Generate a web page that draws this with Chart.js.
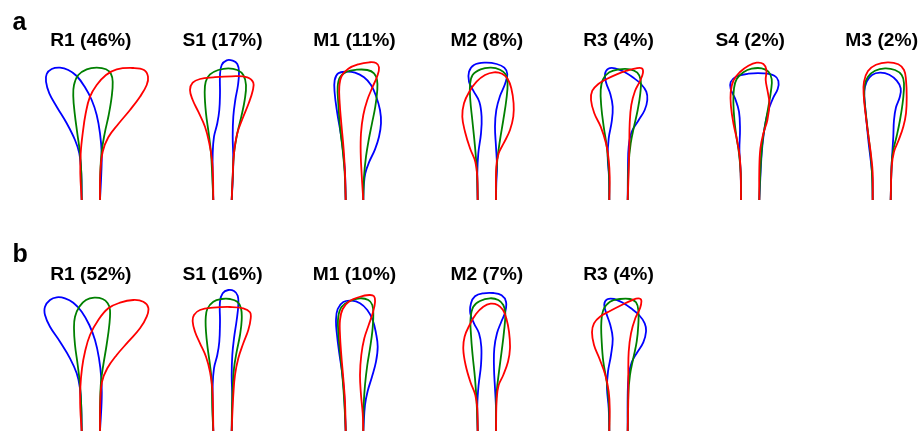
<!DOCTYPE html>
<html>
<head>
<meta charset="utf-8">
<script src="https://cdn.jsdelivr.net/npm/chart.js@4/dist/chart.umd.min.js"></script>
<style>
  html, body { margin: 0; padding: 0; background: #ffffff; }
  #wrap { width: 920px; height: 431px; position: relative; }
</style>
</head>
<body>
<div id="wrap"><canvas id="shapes" width="920" height="431"></canvas></div>
<script>
// Outline coordinates per mode: [x, y] with x measured from the midpoint
// between the two stems and y measured upward from the stem base.

// ---- row a ----
const aR1Blue = [[-9.1,0],[-9.5,26.7],[-11.5,46.7],[-15.8,60],[-24.1,76.7],[-34.1,93.3],[-41.5,106.7],[-44.8,118.3],[-44.1,126],[-39.1,131],[-30.8,132.3],[-22.5,130],[-14.1,124],[-5.8,112.7],[0.9,100],[5.9,85],[9.2,66.7],[10.9,46.7],[10.5,26.7],[9.2,0]];
const aR1Green = [[-9.1,0],[-9.5,26.7],[-10.8,46.7],[-13.5,66.7],[-16.1,86.7],[-17.5,103.3],[-16.8,115],[-12.5,125],[-4.1,130.7],[5.9,132.3],[15.2,130.7],[20.2,126],[21.9,118.3],[20.9,103.3],[17.9,85],[13.9,66.7],[10.9,48.3],[9.5,26.7],[9.2,0]];
const aR1Red = [[-9.1,0],[-10.5,26.7],[-10.1,46.7],[-8.1,66.7],[-5.1,86.7],[-0.8,103.3],[5.9,115],[15.2,125],[25.9,130.7],[42.5,132],[53.2,130],[57.2,123.3],[55.9,115],[49.2,103.3],[39.2,90],[27.5,76],[17.5,62.7],[11.9,48.3],[9.5,26.7],[9.2,0]];

const aS1Blue = [[-9.2,0],[-9.8,23.3],[-9.8,46.7],[-8.5,63.3],[-5.2,76.7],[-3.2,90],[-2.5,106.7],[-2.5,125],[-0.8,135],[4.2,139.7],[10.2,139.3],[14.8,136],[16.5,128.3],[15.5,115],[12.8,100],[10.8,83.3],[10.2,63.3],[10.8,40],[10.2,20],[9.2,0]];
const aS1Green = [[-9.2,0],[-10.2,23.3],[-11.5,46.7],[-13.8,66.7],[-16.5,86.7],[-17.8,106.7],[-16.8,118.3],[-12.5,125.7],[-4.2,130],[5.8,131.7],[14.8,130],[20.8,125],[23.5,115],[22.2,100],[18.8,83.3],[14.8,66.7],[11.5,46.7],[10.2,23.3],[9.2,0]];
const aS1Red = [[-9.2,0],[-9.5,23.3],[-10.5,40],[-13.2,56.7],[-17.5,73.3],[-24.2,88.3],[-29.8,100],[-32.5,110],[-29.8,117.3],[-22.5,121],[-9.2,122.7],[9.2,123.7],[24.8,122.7],[30.8,117.3],[30.2,109.3],[26.2,96.7],[20.2,81.7],[14.8,66.7],[11.5,46.7],[10.2,23.3],[9.2,0]];

const aM1Blue = [[-8.8,0],[-9.5,26.7],[-11.2,46.7],[-13.8,66.7],[-17.2,86.7],[-19.8,106.7],[-19.8,120],[-16.2,126.7],[-8.5,128.3],[0.5,127.3],[9.5,122.7],[16.5,115],[21.5,104],[25.5,90],[26.5,76.7],[24.5,63.3],[20.5,50.7],[14.8,38.3],[10.8,26.7],[9.2,13.3],[8.8,0]];
const aM1Green = [[-8.8,0],[-9.8,26.7],[-11.8,50],[-14.5,73.3],[-16.2,96.7],[-16.8,113.3],[-14.5,122.7],[-7.8,128.3],[2.2,130.3],[12.8,130],[19.5,126.7],[22.5,120],[22.8,110],[20.8,93.3],[17.5,76.7],[14.2,60],[11.5,43.3],[9.5,23.3],[8.8,0]];
const aM1Red = [[-8.8,0],[-9.5,26.7],[-10.8,50],[-13.2,76.7],[-14.8,96.7],[-15.2,113.3],[-12.8,124],[-6.2,131.3],[3.8,135.7],[14.8,137.7],[21.5,137],[24.5,132.7],[22.8,124],[18.2,113.3],[12.8,100],[8.8,85],[6.5,66.7],[6.2,46.7],[7.2,25],[8.8,0]];

const aM2Blue = [[-9.1,0],[-9.5,26.7],[-8.5,46.7],[-5.8,66.7],[-5.2,83.3],[-7.5,98.3],[-13.5,109.3],[-17.8,118.3],[-17.8,128.3],[-12.8,135],[-1.8,137.3],[9.9,136],[17.5,132.3],[20.5,126],[18.2,116],[13.2,104],[9.5,90],[8.2,73.3],[9.2,53.3],[10.2,33.3],[9.5,16.7],[9.2,0]];
const aM2Green = [[-9.1,0],[-9.8,26.7],[-11.8,53.3],[-14.5,80],[-16.5,100],[-16.8,115],[-14.2,125],[-6.2,130.7],[4.2,132.3],[13.2,130.3],[18.8,125.7],[20.8,117.3],[19.5,100],[16.5,80],[13.2,60],[10.5,40],[9.2,20],[9.2,0]];
const aM2Red = [[-9.1,0],[-9.5,23.3],[-11.5,38.3],[-16.8,51.7],[-21.8,68.3],[-24.5,83.3],[-22.8,96.7],[-17.5,108.3],[-10.2,118.3],[-1.8,125],[7.2,127.7],[15.2,126.3],[20.8,121.3],[24.5,111.7],[26.8,96.7],[26.5,83.3],[23.2,70],[17.2,57.3],[11.9,46.7],[9.5,33.3],[9.2,0]];

const aR3Blue = [[-9.2,0],[-9.5,23.3],[-10.8,43.3],[-9.8,61.7],[-6.8,78.3],[-5.8,93.3],[-8.2,106],[-12.2,116.7],[-13.5,126],[-10.2,131.3],[-3.5,131.7],[5.5,128.3],[14.2,122.7],[22.5,116],[27.8,108.3],[28.8,100],[26.2,90],[19.8,79.3],[13.2,68.3],[10.2,53.3],[9.5,33.3],[9.2,0]];
const aR3Green = [[-9.2,0],[-9.5,26.7],[-11.5,51.7],[-14.8,73.3],[-17.2,93.3],[-17.8,110],[-15.5,120.7],[-9.2,127.7],[0.8,130.7],[11.5,130.7],[18.8,127.3],[22.2,120],[21.8,106.7],[19.2,90],[15.5,73.3],[12.2,56.7],[10.2,36.7],[9.2,0]];
const aR3Red = [[-9.2,0],[-8.8,23.3],[-9.8,40],[-12.5,56.7],[-17.8,73.3],[-24.2,86.7],[-27.5,100],[-26.2,109.3],[-20.2,116],[-11.8,121],[-1.8,125.7],[8.2,129.3],[17.5,131.7],[23.2,131.7],[24.5,127.3],[21.5,119],[16.5,109],[12.8,95],[11.2,76.7],[10.8,53.3],[10.2,30],[9.2,0]];

const aS4Blue = [[-9.2,0],[-9.5,26.7],[-10.8,50],[-10.2,70],[-11.2,88.3],[-15.2,101.7],[-19.5,111],[-19.5,118],[-14.2,123.3],[-1.8,126.3],[13.2,126.7],[24.2,124.3],[28.2,119],[27.5,111],[23.2,102.7],[19.2,92.7],[15.8,80],[13.2,63.3],[11.5,46.7],[10.5,30],[9.1,0]];
const aS4Green = [[-9.2,0],[-9.5,26.7],[-11.2,46.7],[-13.8,63.3],[-15.8,80],[-16.8,96.7],[-16.2,111.7],[-13.5,121],[-6.8,127.7],[1.5,131.3],[11.5,131.7],[18.2,128.3],[21.5,121],[20.8,109.3],[18.2,93.3],[15.2,76.7],[12.5,60],[10.8,40],[9.8,20],[9.1,0]];
const aS4Red = [[-9.2,0],[-9.5,26.7],[-10.5,43.3],[-13.2,60],[-16.8,76.7],[-19.2,93.3],[-19.5,107.3],[-16.8,119.3],[-10.2,128],[-1.8,134.3],[6.5,137.3],[13.2,136],[16.2,130],[15.5,120],[17.5,108.3],[19.2,96.7],[17.2,80],[13.2,66.7],[10.2,51.7],[9.1,30],[9.1,0]];

const aM3Blue = [[-9,0],[-9.4,23.3],[-11,40],[-13,56.7],[-15,76.7],[-16.7,95],[-17.4,108.3],[-15,118.3],[-9.7,125],[-1.7,127.3],[7.6,125.3],[15,119.3],[19,111.7],[18,102.7],[14.3,92.7],[12.3,80],[11.6,63.3],[10.6,46.7],[9.6,26.7],[9,0]];
const aM3Green = [[-9,0],[-9.7,26.7],[-11,45],[-13.4,65],[-15.7,85],[-17.4,102.7],[-17,115],[-13.7,123.3],[-6.7,129.3],[3.3,131.7],[13.3,130],[20,125],[22.3,116.7],[21.3,100],[18.3,80],[15,64],[11.6,50],[10,36.7],[9,0]];
const aM3Red = [[-9,0],[-9,26.7],[-10.7,45],[-13.4,65],[-16,85],[-18,105],[-17.7,118.3],[-13.7,129],[-5.7,135.3],[6,137.7],[16.6,135.7],[22.3,130],[24.3,120],[25,103.3],[24.3,86.7],[21.6,73.3],[17,60],[12.3,48.3],[10,33.3],[9,0]];

// ---- row b ----
const bR1Blue = [[-9.1,0],[-9.5,22.7],[-10.8,42.7],[-14.1,57.7],[-20.8,72.7],[-30.8,89.3],[-40.8,104.3],[-45.8,116],[-45.8,124.3],[-40.8,131],[-34.1,133.7],[-25.8,132.7],[-17.5,128.3],[-9.1,119.3],[-1.5,106],[4.2,91],[8.2,72.7],[10.5,52.7],[10.9,32.7],[9.2,0]];
const bR1Green = [[-9.1,0],[-9.5,22.7],[-10.8,46],[-13.1,66],[-15.8,86],[-16.8,102.7],[-15.8,114.3],[-11.5,124.3],[-4.8,131],[3.5,133.3],[11.9,132],[16.9,127.7],[19.2,121],[18.5,106],[15.8,86],[12.5,66],[10.2,49.3],[9.2,22.7],[9.2,0]];
const bR1Red = [[-9.1,0],[-10.5,22.7],[-10.5,42.7],[-8.8,62.7],[-5.8,79.3],[-0.8,96],[7.5,111],[17.5,122.7],[29.2,128.3],[42.5,131],[52.5,129.3],[57.5,123.3],[55.9,114.3],[49.2,102.7],[37.5,89.3],[25.9,76],[16.5,62.7],[11.2,49.3],[9.5,29.3],[9.2,0]];

const bS1Blue = [[-9.2,0],[-9.8,22.7],[-9.8,46],[-8.5,62.7],[-5.2,76],[-3.2,89.3],[-2.5,109.3],[-2.5,129.3],[0.2,137.7],[5.8,141],[11.5,140],[15.2,135.3],[15.8,126],[14.2,111],[11.5,92.7],[9.8,76],[9.2,56],[9.8,32.7],[9.5,16],[9.2,0]];
const bS1Green = [[-9.2,0],[-10.2,22.7],[-10.8,49.3],[-12.5,66],[-14.8,82.7],[-16.5,99.3],[-16.8,112.7],[-15.2,122],[-9.2,129.3],[-0.8,132],[7.5,132],[14.8,129.3],[18.5,122.7],[19.2,111],[17.5,96],[14.2,79.3],[11.5,62.7],[10.2,42.7],[9.5,22.7],[9.2,0]];
const bS1Red = [[-9.2,0],[-9.5,22.7],[-10.2,42.7],[-12.5,59.3],[-16.5,74.3],[-22.5,87.7],[-27.5,99.3],[-29.8,109.3],[-28.5,116],[-22.5,121],[-9.2,123.3],[7.5,124],[20.8,122.7],[27.5,118.7],[28.2,112.7],[25.8,101],[20.8,87.7],[15.8,72.7],[12.5,56],[10.8,36],[9.8,16],[9.2,0]];

const bM1Blue = [[-8.8,0],[-9.5,19.3],[-10.5,39.3],[-12.5,59.3],[-15.2,77.7],[-17.5,96],[-18.5,111],[-16.8,122],[-11.2,129],[-2.8,130.3],[5.5,127.7],[12.8,121],[18.2,111],[21.5,97.7],[23.2,84.3],[21.5,69.3],[17.5,54.3],[13.2,40],[10.5,26],[8.8,0]];
const bM1Green = [[-8.8,0],[-10.2,29.3],[-12.2,56],[-14.5,79.3],[-16.2,99.3],[-16.2,114.3],[-12.8,124.3],[-4.5,130],[5.5,132.7],[13.8,131],[17.8,126],[18.8,116],[17.8,99.3],[15.5,82.7],[12.8,66],[10.5,46],[9.2,26],[8.8,0]];
const bM1Red = [[-8.8,0],[-9.5,29.3],[-11.2,52.7],[-13.2,76],[-14.5,96],[-14.5,111],[-11.8,122],[-5.2,129.7],[4.8,134],[14.8,136],[19.5,134.7],[20.5,128.7],[18.5,118.7],[14.2,106],[9.8,92.7],[6.8,76],[5.5,56],[6.5,36],[8.2,17.7],[8.8,0]];

const bM2Blue = [[-9.1,0],[-9.5,26],[-8.2,46],[-5.8,66],[-5.5,84.3],[-7.8,97.7],[-12.8,107.7],[-16.5,117.7],[-15.8,127.7],[-11.8,134.7],[-3.5,137.7],[6.5,138],[14.8,135.7],[19.2,129.3],[18.5,119.3],[14.5,109.3],[10.2,97.7],[7.5,82.7],[7.2,62.7],[8.2,42.7],[9.2,22.7],[9.2,0]];
const bM2Green = [[-9.1,0],[-10.2,29.3],[-11.8,52.7],[-14.2,76],[-15.8,96],[-16.2,112.7],[-13.5,124.3],[-6.8,130],[3.2,132.7],[11.5,131],[16.5,126],[18.5,117.7],[17.2,99.3],[14.8,79.3],[12.2,59.3],[9.9,39.3],[9.2,19.3],[9.2,0]];
const bM2Red = [[-9.1,0],[-9.5,22.7],[-11.5,36],[-16.5,49.3],[-21.2,66],[-23.5,81.7],[-22.2,94.3],[-17.2,106],[-10.8,117],[-3.5,124.3],[3.8,127.3],[10.9,126],[16.2,121],[19.5,112.7],[22.2,99.3],[23.2,82.7],[21.2,69.3],[16.5,56],[11.9,46],[9.9,32.7],[9.2,0]];

const bR3Blue = [[-9.2,0],[-9.8,22.7],[-11.5,42.7],[-10.5,59.3],[-7.5,76],[-5.8,92.7],[-8.2,106],[-12.2,117.7],[-14.2,126.7],[-11.2,131.7],[-4.5,132],[4.2,128.3],[12.5,122.7],[20.5,116],[26.2,107.7],[27.5,99.3],[24.8,88.7],[18.8,78.7],[13.2,68.7],[10.2,55.3],[9.2,36],[9.2,0]];
const bR3Green = [[-9.2,0],[-9.5,26],[-11.8,49.3],[-15.2,69.3],[-16.8,89.3],[-17.2,107.7],[-15.2,121],[-8.5,129.3],[1.5,132],[11.5,132],[17.5,128.7],[19.8,121],[19.8,106],[18.2,89.3],[14.8,72.7],[11.5,56],[9.8,36],[9.2,0]];
const bR3Red = [[-9.2,0],[-8.8,22.7],[-9.8,39.3],[-13.2,56],[-19.2,72.7],[-24.5,86],[-26.5,98.7],[-24.5,107.7],[-18.5,114.3],[-8.5,120],[3.2,126],[13.2,130.7],[19.8,132.7],[22.8,130.7],[21.5,122.7],[16.8,112.7],[12.5,97.7],[10.2,79.3],[9.8,56],[9.8,32.7],[9.2,0]];

// Mode labels with their share of the population.
const rowALabels = ['R1 (46%)', 'S1 (17%)', 'M1 (11%)', 'M2 (8%)', 'R3 (4%)', 'S4 (2%)', 'M3 (2%)'];
const rowBLabels = ['R1 (52%)', 'S1 (16%)', 'M1 (10%)', 'M2 (7%)', 'R3 (4%)'];

const rowAShapes = [
  [aR1Blue, aR1Green, aR1Red], [aS1Blue, aS1Green, aS1Red], [aM1Blue, aM1Green, aM1Red],
  [aM2Blue, aM2Green, aM2Red], [aR3Blue, aR3Green, aR3Red], [aS4Blue, aS4Green, aS4Red],
  [aM3Blue, aM3Green, aM3Red]
];
const rowBShapes = [
  [bR1Blue, bR1Green, bR1Red], [bS1Blue, bS1Green, bS1Red], [bM1Blue, bM1Green, bM1Red],
  [bM2Blue, bM2Green, bM2Red], [bR3Blue, bR3Green, bR3Red]
];

// ---- layout (canvas units: x to the right, y upward from the bottom edge) ----
const W = 920, H = 431;
const panelCenters = [90.8, 222.5, 354.5, 486.8, 618.5, 750.2, 881.7];
const rows = [
  { letter: 'a', shapes: rowAShapes, labels: rowALabels, base: H - 200, titleY: H - 41.5, letterY: H - 29.5 },
  { letter: 'b', shapes: rowBShapes, labels: rowBLabels, base: 0, titleY: H - 275.2, letterY: H - 261.5 }
];
const lineColors = ['#0000ff', '#008000', '#ff0000'];
// red is painted over green, green over blue
const drawOrder = [3, 2, 1];

const datasets = [];
rows.forEach(row => {
  row.shapes.forEach((trio, i) => {
    const cx = panelCenters[i];
    trio.forEach((pts, k) => {
      datasets.push({
        data: pts.map(p => ({ x: cx + p[0], y: row.base + p[1] })),
        order: drawOrder[k],
        showLine: true,
        borderColor: lineColors[k],
        borderWidth: 1.8,
        pointRadius: 0,
        pointHoverRadius: 0,
        tension: 0.4,
        fill: false,
        clip: false
      });
    });
  });
});

// Panel titles and row letters, positioned through the chart scales.
const labelPlugin = {
  id: 'panelLabels',
  afterDraw(chart) {
    const { ctx, scales: { x, y } } = chart;
    ctx.save();
    ctx.fillStyle = '#000000';
    rows.forEach(row => {
      ctx.textAlign = 'center';
      ctx.textBaseline = 'middle';
      ctx.font = 'bold 17.5px "Liberation Sans", Arial, sans-serif';
      row.labels.forEach((txt, i) => {
        const px = x.getPixelForValue(panelCenters[i]);
        const py = y.getPixelForValue(row.titleY);
        ctx.save();
        ctx.translate(px, py);
        ctx.scale(1.1, 1);
        ctx.fillText(txt, 0, 0);
        ctx.restore();
      });
      ctx.textAlign = 'left';
      ctx.textBaseline = 'alphabetic';
      ctx.font = 'bold 25px "Liberation Sans", Arial, sans-serif';
      ctx.fillText(row.letter, x.getPixelForValue(12.5), y.getPixelForValue(row.letterY));
    });
    ctx.restore();
  }
};

new Chart(document.getElementById('shapes'), {
  type: 'scatter',
  data: { datasets },
  options: {
    responsive: false,
    animation: false,
    events: [],
    layout: { padding: 0 },
    plugins: { legend: { display: false }, tooltip: { enabled: false }, title: { display: false } },
    scales: {
      x: { type: 'linear', min: 0, max: W, display: false },
      y: { type: 'linear', min: 0, max: H, display: false }
    }
  },
  plugins: [labelPlugin]
});
</script>
</body>
</html>
